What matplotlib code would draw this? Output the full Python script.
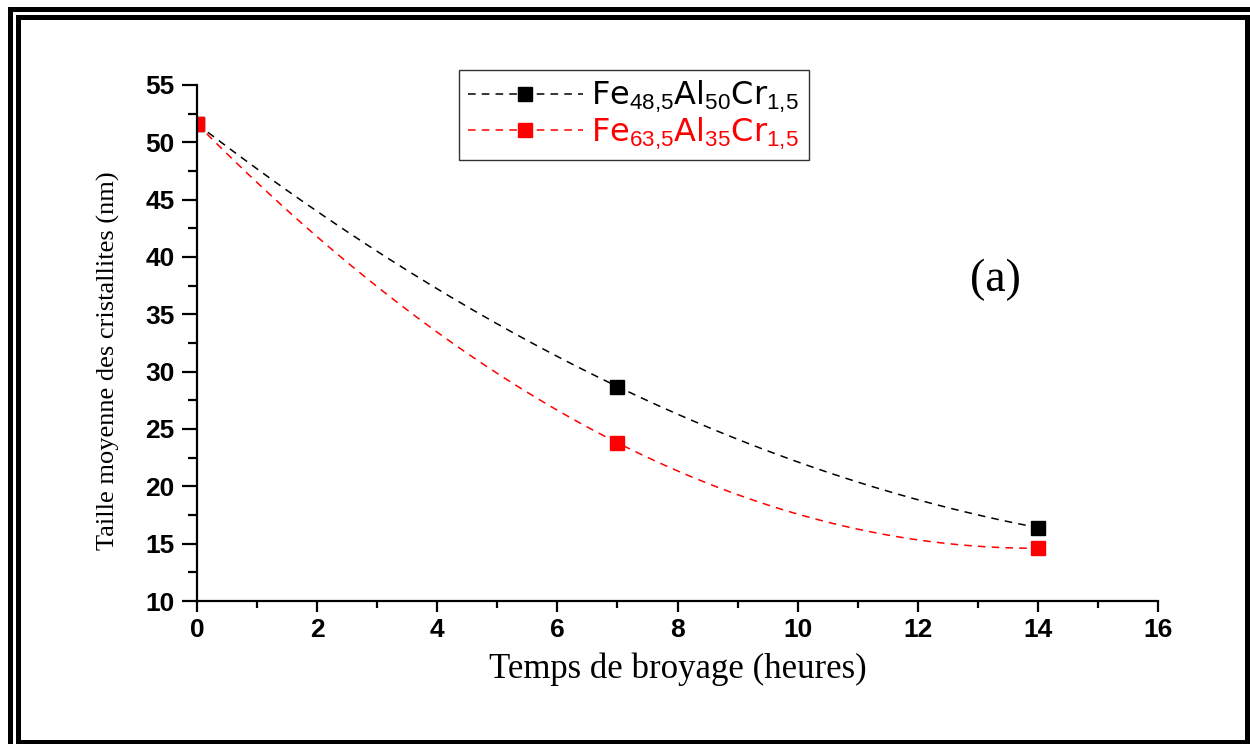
import numpy as np
import matplotlib.pyplot as plt
from matplotlib.patches import Rectangle
from matplotlib.ticker import MultipleLocator

plt.rcParams['mathtext.fontset'] = 'custom'
plt.rcParams['mathtext.rm'] = 'Liberation Sans'
plt.rcParams['mathtext.it'] = 'Liberation Sans'

# ---- données ----
temps = [0, 7, 14]
taille_fe48 = [51.6, 28.7, 16.4]
taille_fe63 = [51.6, 23.8, 14.6]
label_fe48 = r'Fe$_{48{,}5}$Al$_{50}$Cr$_{1{,}5}$ '
label_fe63 = r'Fe$_{63{,}5}$Al$_{35}$Cr$_{1{,}5}$ '

fig = plt.figure(figsize=(12.5, 7.44), dpi=100)
ax = fig.add_axes([0.1576, 0.1922, 0.7688, 0.6936])

# cadre double autour de la figure
fig.patches.append(Rectangle((9.5 / 1250, -8 / 744), 1242 / 1250, 743.5 / 744,
                             transform=fig.transFigure, fill=False,
                             lw=3.6, ec='black'))
fig.patches.append(Rectangle((17.5 / 1250, 2.5 / 744), 1229 / 1250, 725 / 744,
                             transform=fig.transFigure, fill=False,
                             lw=3.6, ec='black'))

# courbes lissées (polynôme d'ordre 2 passant par les 3 points)
xs = np.linspace(0, 14, 200)
for y, c, lab in [(taille_fe48, 'black', label_fe48), (taille_fe63, 'red', label_fe63)]:
    p = np.polyfit(temps, y, 2)
    ax.plot(xs, np.polyval(p, xs), color=c, lw=1.1, dashes=(5, 4))
    ax.plot(temps, y, ls='none', marker='s', ms=10, color=c, mec=c)
    # entrée de légende
    ax.plot([], [], color=c, lw=1.1, dashes=(5, 4), marker='s', ms=10,
            mec=c, label=lab)

ax.set_xlim(0, 16)
ax.set_ylim(10, 55)
ax.xaxis.set_major_locator(MultipleLocator(2))
ax.xaxis.set_minor_locator(MultipleLocator(1))
ax.yaxis.set_major_locator(MultipleLocator(5))
ax.yaxis.set_minor_locator(MultipleLocator(2.5))

for s in ['top', 'right']:
    ax.spines[s].set_visible(False)
for s in ['left', 'bottom']:
    ax.spines[s].set_linewidth(1.6)

ax.tick_params(axis='x', which='major', direction='out', length=8, width=1.6, pad=4)
ax.tick_params(axis='x', which='minor', direction='out', length=5, width=1.6)
ax.tick_params(axis='y', which='major', direction='out', length=11, width=1.6, pad=5)
ax.tick_params(axis='y', which='minor', direction='out', length=6.5, width=1.6)
for lbl in ax.get_xticklabels() + ax.get_yticklabels():
    lbl.set_fontfamily('Liberation Sans')
    lbl.set_fontweight('bold')
    lbl.set_fontsize(19)

ax.set_xlabel('Temps de broyage (heures)', fontfamily='Liberation Serif', fontsize=25)
ax.set_ylabel('Taille moyenne des cristallites (nm)', fontfamily='Liberation Serif', fontsize=19)
ax.xaxis.set_label_coords(0.5, -0.1)
ax.yaxis.set_label_coords(-0.08, 0.465)

ax.text(13.3, 38, '(a)', fontfamily='Liberation Serif', fontsize=33,
        ha='center', va='center')

leg = ax.legend(loc='upper left', bbox_to_anchor=(262 / 961, 1.029), borderaxespad=0,
                fontsize=23, handlelength=3.6, frameon=True, fancybox=False,
                edgecolor='black', borderpad=0.28, labelspacing=0.0,
                handletextpad=0.25)
leg.get_frame().set_linewidth(1.0)
for txt, c in zip(leg.get_texts(), ['black', 'red']):
    txt.set_color(c)

fig.savefig('out.png', dpi=100)
